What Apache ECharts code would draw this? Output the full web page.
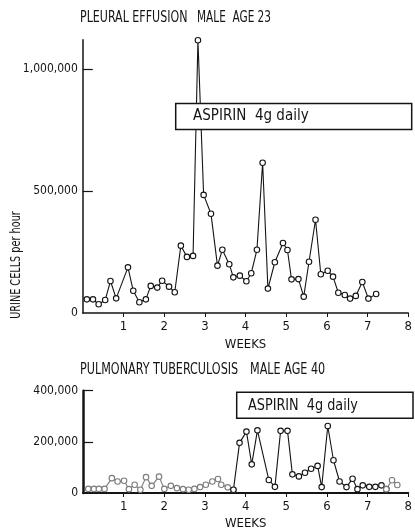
<!DOCTYPE html>
<html>
<head>
<meta charset="utf-8">
<script src="https://cdn.jsdelivr.net/npm/echarts@6/dist/echarts.min.js"></script>
<style>
  html, body { margin: 0; padding: 0; background: #fff; }
  #chart { width: 415px; height: 531px; }
</style>
</head>
<body>
<div id="chart"></div>
<script>
// Urine cell excretion per hour, daily counts, before and during aspirin 4 g daily.

// Case 1: pleural effusion, male, age 23
const pleuralWeeks = [0.10, 0.25, 0.39, 0.55, 0.68, 0.82, 1.11, 1.24, 1.39, 1.55, 1.67, 1.83, 1.95, 2.12, 2.26,
  2.41, 2.56, 2.71, 2.83, 2.97, 3.15, 3.31, 3.43, 3.60, 3.70, 3.86, 4.02, 4.14, 4.28, 4.42, 4.55, 4.72, 4.92,
  5.03, 5.13, 5.30, 5.43, 5.56, 5.72, 5.85, 6.02, 6.15, 6.28, 6.44, 6.57, 6.71, 6.87, 7.02, 7.21];
const pleuralCells = [56000, 56000, 36000, 53000, 131000, 60000, 187000, 91000, 44000, 56000, 111000, 104000,
  132000, 108000, 85000, 276000, 230000, 234000, 1118000, 484000, 407000, 194000, 259000, 200000, 146000,
  153000, 130000, 163000, 259000, 616000, 100000, 208000, 287000, 258000, 138000, 139000, 67000, 210000,
  382000, 159000, 173000, 149000, 83000, 74000, 59000, 70000, 127000, 59000, 78000];

// Case 2: pulmonary tuberculosis, male, age 40
const tbWeeks = [0.13, 0.27, 0.39, 0.53, 0.71, 0.85, 1.01, 1.13, 1.27, 1.41, 1.55, 1.69, 1.87, 2.00, 2.16,
  2.31, 2.46, 2.60, 2.74, 2.88, 3.02, 3.18, 3.32, 3.40, 3.56, 3.70, 3.85, 4.02, 4.15, 4.29, 4.57, 4.72, 4.86,
  5.03, 5.15, 5.31, 5.46, 5.61, 5.77, 5.87, 6.02, 6.16, 6.31, 6.48, 6.63, 6.75, 6.88, 7.04, 7.19, 7.34, 7.46,
  7.60, 7.73];
const tbCells = [16000, 16000, 16000, 16000, 58000, 45000, 48000, 15000, 32000, 13000, 62000, 28000, 64000,
  16000, 28000, 19000, 15000, 13000, 16000, 23000, 32000, 45000, 55000, 32000, 22000, 13000, 196000, 240000,
  112000, 245000, 51000, 24000, 243000, 243000, 73000, 65000, 79000, 95000, 106000, 23000, 262000, 128000,
  45000, 23000, 56000, 15000, 30000, 24000, 24000, 30000, 15000, 50000, 31000];
// index range of the treated days (drawn in full ink; the rest is faded)
const tbTreatedFrom = 25;
const tbTreatedTo = 50;

// axis ticks and labels
const weekTicks = [1, 2, 3, 4, 5, 6, 7, 8];
const pleuralTickValues = [500000, 1000000];
const pleuralLabelValues = [0, 500000, 1000000];
const tbTickValues = [200000, 400000];
const tbLabelValues = [0, 200000, 400000];

const titles = {
  top: ['PLEURAL EFFUSION', 'MALE  AGE 23'],
  bottom: ['PULMONARY TUBERCULOSIS', 'MALE AGE 40']
};
const treatmentText = 'ASPIRIN  4g daily';
const yTitle = 'URINE CELLS per hour';

const INK = '#141414';
const FADED = '#7c7c7c';
const FONT = "'Liberation Sans Narrow', 'DejaVu Sans Condensed', 'Liberation Sans', sans-serif";

const pairs = (xs, ys) => xs.map((x, i) => [x, ys[i]]);
const fmt = v => Number(v).toLocaleString('en-US');

function lineSeries(data, color, xi) {
  return {
    type: 'line',
    xAxisIndex: xi, yAxisIndex: xi,
    data: data,
    symbol: 'circle',
    symbolSize: 5.5,
    showAllSymbol: true,
    lineStyle: { color: color, width: 1.1 },
    itemStyle: { color: '#fff', borderColor: color, borderWidth: 1.1 },
    z: 3,
    animation: false
  };
}

function xAxis(gi, lineWidth) {
  return {
    gridIndex: gi, type: 'value', min: 0, max: 8, interval: 1,
    axisLine: { show: true, lineStyle: { color: INK, width: lineWidth } },
    axisTick: { show: true, customValues: weekTicks, length: 4, lineStyle: { color: INK, width: 1 } },
    axisLabel: { customValues: weekTicks, margin: 7, color: INK, fontSize: 13, fontFamily: FONT },
    splitLine: { show: false },
    name: 'WEEKS', nameLocation: 'middle', nameGap: gi === 0 ? 22 : 24,
    nameTextStyle: { color: INK, fontSize: 13, fontFamily: FONT }
  };
}

function yAxis(gi, max, ticks, labels, lineWidth) {
  return {
    gridIndex: gi, type: 'value', min: 0, max: max,
    axisLine: { show: true, lineStyle: { color: INK, width: lineWidth } },
    axisTick: { show: true, inside: true, length: 10, customValues: ticks, lineStyle: { color: INK, width: 1.2 } },
    axisLabel: { customValues: labels, formatter: fmt, margin: 5, color: INK, fontSize: 12, fontFamily: FONT },
    splitLine: { show: false }
  };
}

// narrow lettering: text drawn at a larger size and squeezed horizontally
function label(text, x, y, size, squeeze) {
  return {
    type: 'text', x: x, y: y, scaleX: squeeze, z: 101,
    style: { text: text, fill: INK, fontSize: size, fontFamily: FONT, verticalAlign: 'middle' }
  };
}

const chart = echarts.init(document.getElementById('chart'), null, { renderer: 'canvas' });
chart.setOption({
  backgroundColor: '#fff',
  animation: false,
  grid: [
    { left: 82.8, right: 2.7, top: 39.7, bottom: 218 },
    { left: 83, right: 2, top: 390.7, bottom: 37.7 }
  ],
  xAxis: [xAxis(0, 1.5), xAxis(1, 2)],
  yAxis: [
    yAxis(0, 1120000, pleuralTickValues, pleuralLabelValues, 1.5),
    yAxis(1, 400000, tbTickValues, tbLabelValues, 2.5)
  ],
  series: [
    lineSeries(pairs(pleuralWeeks, pleuralCells), INK, 0),
    lineSeries(pairs(tbWeeks, tbCells).slice(0, tbTreatedFrom + 1), FADED, 1),
    lineSeries(pairs(tbWeeks, tbCells).slice(tbTreatedFrom, tbTreatedTo + 1), INK, 1),
    lineSeries(pairs(tbWeeks, tbCells).slice(tbTreatedTo), FADED, 1)
  ],
  graphic: [
    label(titles.top[0], 80, 18.5, 15, 0.82),
    label(titles.top[1], 197, 18.5, 15, 0.78),
    label(titles.bottom[0], 80, 370, 15, 0.83),
    label(titles.bottom[1], 250, 370, 15, 0.83),
    {
      type: 'text', x: 16, y: 265, rotation: Math.PI / 2, scaleX: 0.8, z: 100,
      style: { text: yTitle, fill: INK, fontSize: 13.5, fontFamily: FONT, align: 'center', verticalAlign: 'middle' }
    },
    {
      type: 'rect', z: 100,
      shape: { x: 175.7, y: 103.5, width: 236, height: 26 },
      style: { fill: '#fff', stroke: INK, lineWidth: 1.5 }
    },
    label(treatmentText, 193, 116.5, 15, 1),
    {
      type: 'rect', z: 100,
      shape: { x: 236.7, y: 392.3, width: 176.3, height: 26 },
      style: { fill: '#fff', stroke: INK, lineWidth: 1.5 }
    },
    label(treatmentText, 248, 406, 15, 0.95)
  ]
});
</script>
</body>
</html>
